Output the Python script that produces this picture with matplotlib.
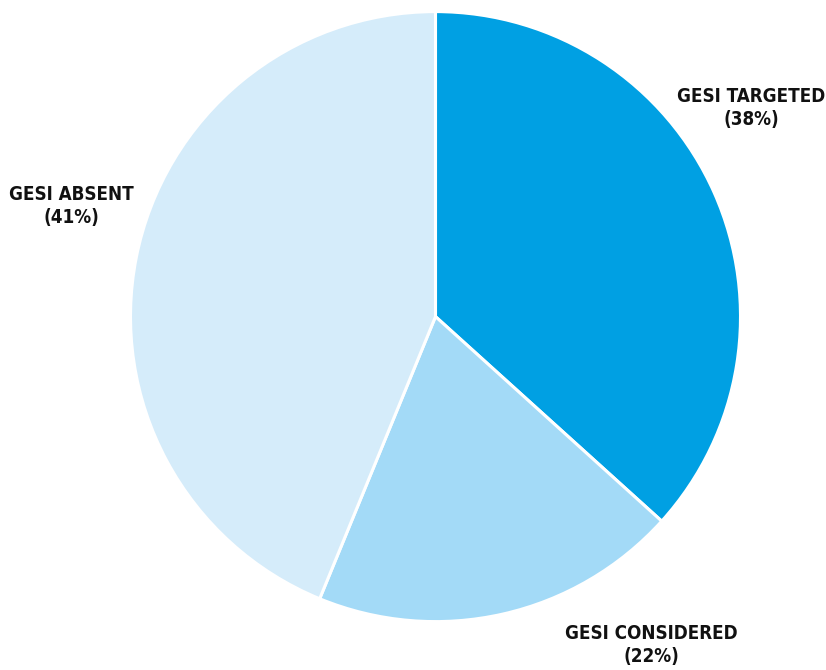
import matplotlib.pyplot as plt

# slice values as drawn (clockwise from 12 o'clock)
labels = ['GESI TARGETED', 'GESI CONSIDERED', 'GESI ABSENT']
shares = [36.7, 19.5, 43.8]
pct_text = ['(38%)', '(22%)', '(41%)']
colors = ['#00A0E3', '#A3DAF7', '#D5ECFA']

W, H = 826, 670
fig = plt.figure(figsize=(W / 100, H / 100), dpi=100)
ax = fig.add_axes([0, 0, 1, 1])

ax.pie(shares, colors=colors, startangle=90, counterclock=False,
       center=(435.5, H - 316.6), radius=305, frame=True,
       wedgeprops=dict(edgecolor='white', linewidth=2.2))
ax.set_xlim(0, W)
ax.set_ylim(0, H)
ax.set_aspect('equal')
ax.axis('off')

# label block centres (pixel coords from top-left)
label_pos = [(751, 108), (651, 645), (71, 206)]
font = dict(family=['DejaVu Sans'], fontweight='bold', fontstretch='condensed',
            fontsize=13.5, color='#111111', ha='center', va='center',
            linespacing=1.3)
for name, pct, (x, y) in zip(labels, pct_text, label_pos):
    ax.text(x, H - y, name + '\n' + pct, **font)

fig.savefig('out.png', dpi=100)
